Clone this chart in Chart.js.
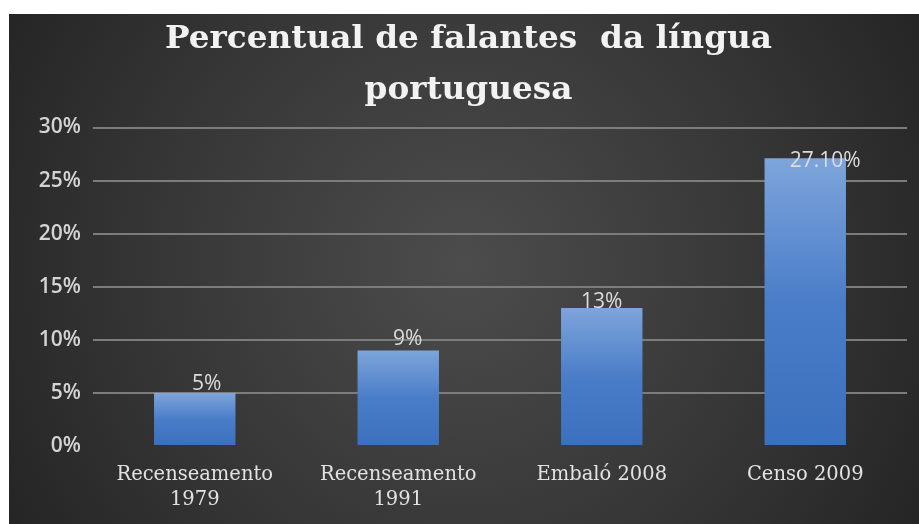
<!DOCTYPE html>
<html lang="pt">
<head>
<meta charset="utf-8">
<title>Percentual de falantes da língua portuguesa</title>
<script src="https://cdn.jsdelivr.net/npm/chart.js@4"></script>
<style>
  html, body { margin: 0; padding: 0; background: #ffffff; }
  #wrap { position: absolute; left: 9px; top: 14px; width: 910px; height: 510px; }
</style>
</head>
<body>
<div id="wrap"><canvas id="falantesChart"></canvas></div>
<script>
// Dados do gráfico
const categorias = [['Recenseamento', '1979'], ['Recenseamento', '1991'], 'Embaló 2008', 'Censo 2009'];
const percentuais = [5, 9, 13, 27.1];
const rotulos = ['5%', '9%', '13%', '27.10%'];
const titulo = ['Percentual de falantes  da língua', 'portuguesa'];

// Fundo escuro com brilho no centro
const fundoPlugin = {
    id: 'fundo',
    beforeDraw(chart) {
        const ctx = chart.ctx;
        const w = chart.width, h = chart.height;
        const g = ctx.createRadialGradient(455, 250, 0, 455, 250, 560);
        g.addColorStop(0, '#4c4c4c');
        g.addColorStop(0.55, '#363636');
        g.addColorStop(1, '#222222');
        ctx.save();
        ctx.fillStyle = g;
        ctx.fillRect(0, 0, w, h);
        ctx.restore();
    }
};

// Título em duas linhas (largura da primeira linha fixada em 607px)
const tituloPlugin = {
    id: 'tituloDuplo',
    afterDraw(chart) {
        const ctx = chart.ctx;
        ctx.save();
        ctx.fillStyle = '#f2f2f2';
        ctx.font = 'bold 31px "DejaVu Serif"';
        ctx.textAlign = 'center';
        ctx.textBaseline = 'alphabetic';
        const escala = 607 / ctx.measureText(titulo[0]).width;
        ctx.translate(459.5, 0);
        ctx.scale(escala, 1);
        ctx.fillText(titulo[0], 0, 34);
        ctx.fillText(titulo[1], 0, 85);
        ctx.restore();
    }
};

// Rótulos de valor sobre as barras
const rotulosPlugin = {
    id: 'rotulos',
    afterDatasetsDraw(chart, args, opts) {
        const ctx = chart.ctx;
        const meta = chart.getDatasetMeta(0);
        ctx.save();
        ctx.fillStyle = '#dcdcdc';
        ctx.font = '21px "Open Sans"';
        ctx.textAlign = 'center';
        ctx.textBaseline = 'alphabetic';
        meta.data.forEach((bar, i) => {
            const d = opts.desloc[i] || [0, 0];
            ctx.fillText(rotulos[i], bar.x + d[0], bar.y + d[1]);
        });
        ctx.restore();
    }
};

function gradienteBarra(context) {
    const chart = context.chart;
    if (!chart.chartArea) return '#4a7dc8';
    const y = chart.scales.y;
    const topo = y.getPixelForValue(context.raw);
    const base = y.getPixelForValue(0);
    const g = chart.ctx.createLinearGradient(0, topo, 0, base);
    g.addColorStop(0, '#7ea5db');
    g.addColorStop(0.5, '#4a7dc8');
    g.addColorStop(1, '#3b70be');
    return g;
}

const ctx = document.getElementById('falantesChart').getContext('2d');
new Chart(ctx, {
    type: 'bar',
    data: {
        labels: categorias,
        datasets: [{
            data: percentuais,
            backgroundColor: gradienteBarra,
            borderWidth: 0,
            categoryPercentage: 1,
            barPercentage: 0.4
        }]
    },
    options: {
        responsive: true,
        maintainAspectRatio: false,
        animation: false,
        layout: { padding: { top: 113.5, right: 12, bottom: 0, left: 0 } },
        plugins: {
            legend: { display: false },
            title: { display: false },
            tooltip: { enabled: false },
            rotulos: { desloc: [[12, -2.5], [9.5, -5], [0, 0], [20, 9]] }
        },
        scales: {
            x: {
                grid: { display: false },
                border: { display: false },
                ticks: {
                    color: '#e2e2e2',
                    font: { family: '"DejaVu Serif"', size: 19.5, lineHeight: 1.28 },
                    padding: 8,
                    maxRotation: 0
                },
                afterFit(scale) { scale.height = 78; }
            },
            y: {
                min: 0,
                max: 30,
                ticks: {
                    stepSize: 5,
                    color: '#d4d4d4',
                    font: { family: '"Open Sans"', size: 21, weight: '600' },
                    padding: 12,
                    callback: v => v + '%'
                },
                grid: {
                    color: c => c.tick && c.tick.value === 0 ? 'rgba(0,0,0,0)' : '#7c7c7c',
                    lineWidth: 2,
                    drawTicks: false
                },
                border: { display: false },
                afterFit(scale) { scale.width = 84; }
            }
        }
    },
    plugins: [fundoPlugin, tituloPlugin, rotulosPlugin]
});
</script>
</body>
</html>
